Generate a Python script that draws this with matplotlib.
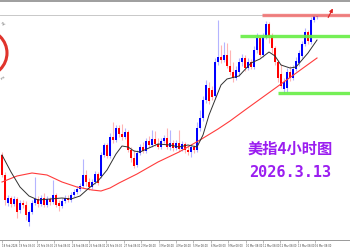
import matplotlib
matplotlib.use("Agg")
import matplotlib.pyplot as plt
import numpy as np
from matplotlib.patches import Ellipse, Rectangle

# 4H candles, US dollar index
opens = [97.10, 96.70, 96.14, 96.24, 96.12, 96.22, 96.00, 96.14, 96.10, 95.76,
         95.96, 96.14, 96.22, 96.12, 96.24, 96.10, 96.22, 96.16, 96.30, 96.14,
         96.08, 96.18, 96.24, 96.20, 96.30, 96.36, 96.42, 96.48, 96.70, 96.56,
         96.46, 96.56, 96.72, 96.68, 97.10, 97.30, 97.08, 97.46, 97.40, 97.64,
         97.52, 97.46, 97.56, 97.20, 97.04, 96.90, 97.14, 97.26, 97.18, 97.38,
         97.30, 97.42, 97.32, 97.26, 97.38, 97.44, 97.26, 97.34, 97.24, 97.34,
         97.22, 97.32, 97.20, 97.16, 97.26, 97.20, 97.64, 97.84, 98.20, 98.44,
         98.40, 98.28, 98.96, 99.06, 99.00, 99.10, 98.88, 98.76, 98.64, 98.76,
         98.96, 99.04, 98.84, 98.96, 98.86, 99.20, 99.44, 99.10, 99.46, 99.72,
         99.48, 99.24, 98.96, 98.72, 98.42, 98.44, 98.76, 98.64, 98.82, 98.94,
         99.08, 99.32, 99.56, 99.36, 99.80, 99.86]
highs = [97.16, 96.76, 96.30, 96.28, 96.28, 96.26, 96.20, 96.20, 96.18, 96.00,
         96.20, 96.66, 96.28, 96.30, 96.34, 96.28, 96.26, 96.60, 96.34, 96.20,
         96.24, 96.30, 96.30, 96.36, 96.42, 96.48, 96.54, 97.02, 96.80, 96.64,
         96.62, 96.78, 96.76, 97.16, 97.34, 97.34, 97.54, 97.76, 97.70, 97.70,
         97.72, 97.64, 97.60, 97.26, 97.20, 97.20, 97.32, 97.36, 97.44, 97.48,
         97.60, 97.58, 97.44, 97.44, 97.50, 97.64, 97.60, 97.40, 97.40, 97.60,
         97.38, 97.36, 97.28, 97.32, 97.30, 97.76, 98.00, 98.28, 98.60, 98.56,
         98.48, 99.04, 99.80, 99.30, 99.36, 99.34, 99.20, 98.96, 98.88, 99.04,
         99.12, 99.10, 99.04, 99.02, 99.28, 99.54, 99.48, 99.54, 99.78, 99.76,
         99.54, 99.28, 99.00, 98.92, 98.64, 98.84, 98.88, 98.90, 99.06, 99.20,
         99.38, 99.64, 99.60, 99.86, 99.90, 99.90]
lows = [96.66, 96.10, 96.08, 96.06, 96.08, 95.84, 95.94, 96.04, 95.80, 95.68,
        95.92, 96.10, 96.06, 96.08, 96.06, 96.06, 96.10, 96.12, 96.06, 95.98,
        96.04, 96.14, 96.16, 96.16, 96.26, 96.32, 96.38, 96.44, 96.48, 96.40,
        96.42, 96.52, 96.50, 96.64, 97.06, 97.04, 97.04, 97.34, 97.36, 97.46,
        97.40, 97.42, 97.16, 96.96, 96.84, 96.86, 97.10, 97.14, 97.14, 97.26,
        97.26, 97.28, 97.22, 97.22, 97.34, 97.22, 97.20, 97.18, 97.20, 97.18,
        97.18, 97.14, 97.10, 97.06, 97.14, 97.16, 97.58, 97.78, 98.14, 98.12,
        98.20, 98.22, 98.90, 98.94, 98.96, 98.84, 98.70, 98.56, 98.60, 98.68,
        98.88, 98.78, 98.80, 98.82, 98.82, 99.14, 99.06, 99.06, 99.42, 99.34,
        99.14, 98.90, 98.56, 98.44, 98.34, 98.36, 98.58, 98.60, 98.78, 98.88,
        99.04, 99.28, 99.32, 99.32, 99.76, 99.82]
closes = [96.70, 96.20, 96.24, 96.12, 96.22, 95.96, 96.14, 96.10, 95.90, 95.96,
          96.14, 96.22, 96.12, 96.24, 96.10, 96.22, 96.16, 96.30, 96.10, 96.08,
          96.18, 96.24, 96.20, 96.30, 96.36, 96.42, 96.48, 96.70, 96.56, 96.46,
          96.56, 96.72, 96.54, 97.10, 97.30, 97.08, 97.46, 97.40, 97.64, 97.52,
          97.46, 97.56, 97.20, 97.04, 96.88, 97.14, 97.26, 97.18, 97.38, 97.30,
          97.42, 97.32, 97.26, 97.38, 97.44, 97.26, 97.34, 97.24, 97.34, 97.22,
          97.32, 97.20, 97.16, 97.26, 97.20, 97.64, 97.84, 98.20, 98.50, 98.18,
          98.26, 98.96, 99.06, 99.00, 99.10, 98.88, 98.76, 98.64, 98.80, 98.96,
          99.04, 98.84, 98.96, 98.86, 99.20, 99.44, 99.10, 99.46, 99.72, 99.48,
          99.24, 98.96, 98.64, 98.48, 98.56, 98.76, 98.64, 98.82, 98.98, 99.14,
          99.32, 99.56, 99.38, 99.80, 99.88, 99.88]

# moving averages (candle index, value)
ma_fast_idx = [0, 3, 6, 9, 12, 16, 20, 23, 26, 29, 32, 35, 38, 40, 42, 44, 46, 49,
               52, 56, 59, 62, 65, 67, 69, 71, 73, 75, 79, 83, 86, 89, 91, 93, 96,
               98, 100, 102, 105]
ma_fast = [97.10, 96.76, 96.46, 96.28, 96.20, 96.22, 96.24, 96.22, 96.28, 96.44,
           96.58, 96.80, 97.12, 97.28, 97.26, 97.18, 97.16, 97.24, 97.32, 97.30,
           97.26, 97.30, 97.26, 97.50, 97.90, 98.20, 98.50, 98.62, 98.68, 98.94,
           99.02, 99.16, 99.08, 98.90, 98.84, 98.86, 99.00, 99.14, 99.40]
ma_slow_idx = [0, 5, 10, 15, 20, 25, 30, 33, 36, 39, 45, 52, 59, 66, 72, 76, 81,
               87, 93, 99, 105]
ma_slow = [96.56, 96.68, 96.74, 96.70, 96.56, 96.46, 96.40, 96.38, 96.44, 96.54,
           96.72, 96.96, 97.16, 97.40, 97.62, 97.78, 98.00, 98.26, 98.52, 98.78,
           99.04]

# drawn levels: (price, first candle index)
resistance = (99.90, 86.7)
upper_support = (99.48, 79.3)
lower_support = (98.34, 92.0)

tick_labels = ["18 Feb 2026", "19 Feb 08:00", "20 Feb 08:00", "23 Feb 08:00",
               "24 Feb 08:00", "25 Feb 08:00", "26 Feb 08:00", "27 Feb 08:00",
               "2 Mar 08:00", "3 Mar 08:00", "4 Mar 08:00", "5 Mar 08:00",
               "6 Mar 08:00", "9 Mar 08:00", "10 Mar 08:00", "11 Mar 08:00",
               "12 Mar 08:00", "13 Mar 08:00", "16 Mar 08:00"]

title = "美指4小时图"
date_text = "2026.3.13"

o = np.array(opens)
h = np.array(highs)
l = np.array(lows)
c = np.array(closes)
idx = np.arange(len(c))
up = c >= o

fig = plt.figure(figsize=(3.5, 2.5), dpi=100)
ax = fig.add_axes([0.0, 0.04, 1.0, 0.90])

# wicks (pale) then bodies
ax.vlines(idx[up], l[up], h[up], color="#b4b4ff", lw=0.8, zorder=2)
ax.vlines(idx[~up], l[~up], h[~up], color="#ffb4b4", lw=0.8, zorder=2)
body = np.maximum(np.abs(c - o), 0.015)
ax.bar(idx[up], body[up], bottom=np.minimum(o, c)[up], width=0.6,
       color="#0000ff", lw=0, zorder=3)
ax.bar(idx[~up], body[~up], bottom=np.minimum(o, c)[~up], width=0.6,
       color="#ff0000", lw=0, zorder=3)

ax.plot(ma_slow_idx, ma_slow, color="#ff3b3b", lw=0.8, zorder=4)
ax.plot(ma_fast_idx, ma_fast, color="#303030", lw=0.7, zorder=4)

xmax = 116
ax.hlines(resistance[0], resistance[1], xmax, color="#f07070", lw=2.4,
          alpha=0.85, zorder=5, clip_on=False)
ax.hlines(upper_support[0], upper_support[1], xmax, color="#66ee44", lw=2.4,
          alpha=0.9, zorder=5)
ax.hlines(lower_support[0], lower_support[1], xmax, color="#66ee44", lw=2.4,
          alpha=0.9, zorder=5)

ax.annotate("", xy=(110.7, 100.08), xytext=(108.3, 99.80),
            arrowprops=dict(arrowstyle="-|>", color="#e02020", lw=0.8,
                            mutation_scale=5),
            annotation_clip=False, zorder=6)

ax.text(0.83, 0.408, title, transform=ax.transAxes, ha="center", va="center",
        fontsize=11, fontweight="bold", color="#9b1ef0",
        family=["Noto Sans CJK SC", "DejaVu Sans"])
ax.text(0.83, 0.302, date_text, transform=ax.transAxes, ha="center", va="center",
        fontsize=11, fontweight="bold", color="#9b1ef0", family="DejaVu Sans Mono")

ax.set_xlim(-0.667, xmax)
ax.set_ylim(95.40, 99.90)
ax.set_yticks([])
ax.set_xticks(np.arange(len(tick_labels)) * 5.8)
ax.set_xticklabels(tick_labels, fontsize=1.8, color="#444444", ha="left")
ax.tick_params(axis="x", length=2, width=0.4, color="#888888", pad=1)
for side in ["left", "right"]:
    ax.spines[side].set_visible(False)
ax.spines["top"].set_color("#c8c8c8")
ax.spines["top"].set_linewidth(0.7)
ax.spines["bottom"].set_color("#999999")
ax.spines["bottom"].set_linewidth(0.7)

# cropped logo at the left edge and window border at the top
fig.patches.append(Ellipse((-16 / 350, 1 - 53 / 250), 46 / 350, 46 / 250,
                           transform=fig.transFigure, fill=False,
                           edgecolor="#e0342c", lw=2.2))
fig.text(0.0, 1 - 24 / 250, "ey", fontsize=3, color="#666666", rotation=-35,
         ha="left", va="center")
fig.text(0.0, 1 - 78 / 250, "m", fontsize=3, color="#666666", rotation=35,
         ha="left", va="center")
fig.patches.append(Rectangle((0, 1 - 2 / 250), 1, 2 / 250,
                             transform=fig.transFigure, color="#a0a0a0", lw=0))

fig.savefig("out.png", dpi=100)
